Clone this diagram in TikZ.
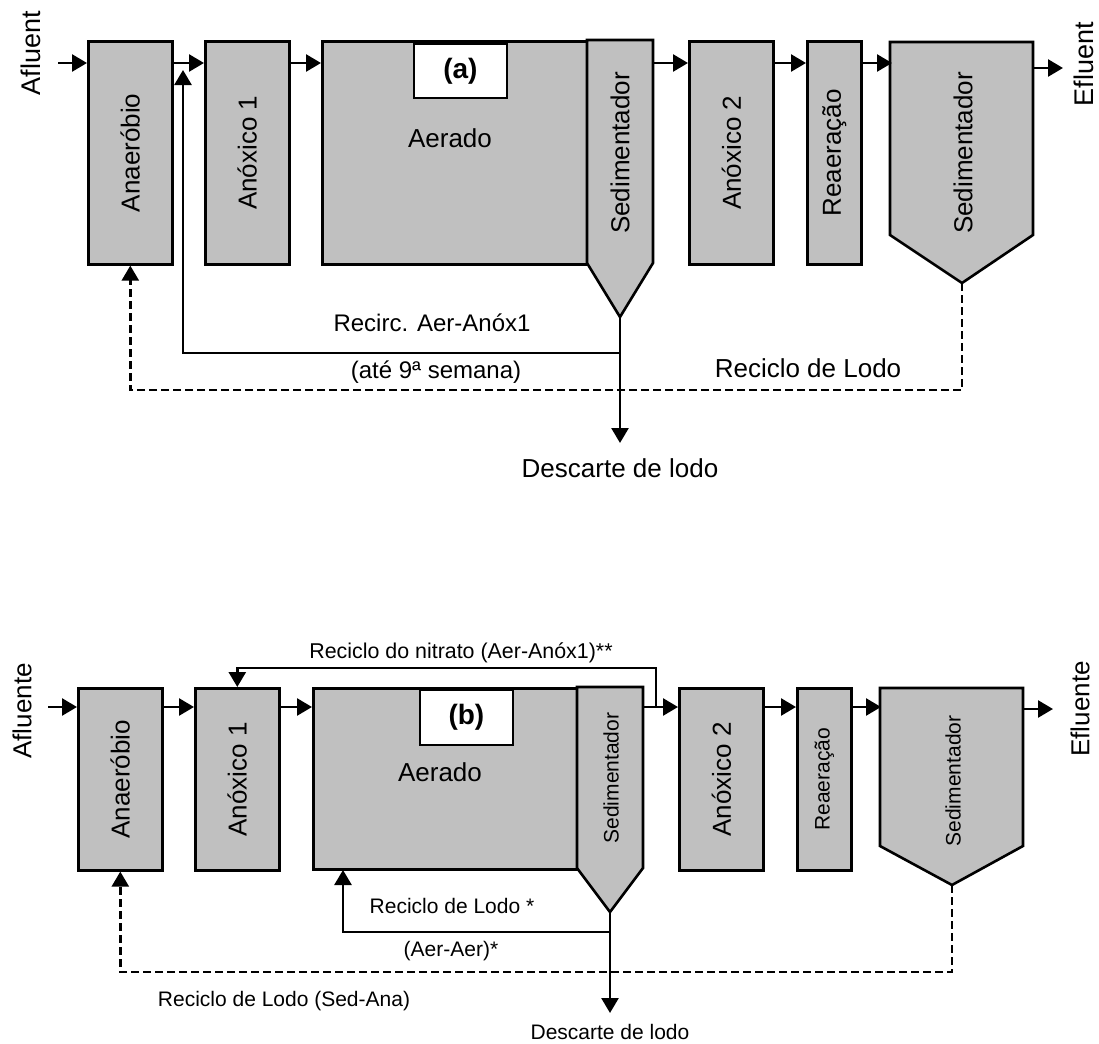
\documentclass[tikz,border=0pt]{standalone}
\usepackage{fontspec}
\setmainfont{Liberation Sans}
\usetikzlibrary{arrows.meta}
\definecolor{boxgray}{RGB}{192,192,192}
\tikzset{
  box/.style={draw, line width=1.3pt, fill=boxgray, inner sep=0pt, anchor=north west},
  sedshape/.style={draw, line width=1.3pt, fill=boxgray, line join=miter},
  tagbox/.style={draw, line width=0.9pt, fill=white, inner sep=0pt, anchor=north west},
  flow/.style={line width=1.3pt, -{Triangle[length=7.5pt,width=8.5pt]}},
  plain/.style={line width=1.3pt},
  dashflow/.style={line width=1.2pt, dash pattern=on 4pt off 2pt, -{Triangle[length=7.5pt,width=8.5pt]}},
  lbl/.style={font=\fontsize{13}{15}\selectfont, inner sep=0pt},
  vlbl/.style={lbl, rotate=90},
  slbl/.style={font=\fontsize{10.5}{12.5}\selectfont, inner sep=0pt},
  vslbl/.style={slbl, rotate=90},
  mlbl/.style={font=\fontsize{12}{14}\selectfont, inner sep=0pt},
  taglbl/.style={font=\fontsize{14}{16}\selectfont\bfseries, inner sep=0pt},
}
\begin{document}
\begin{tikzpicture}[x=0.5pt,y=-0.5pt]
\useasboundingbox (0,0) rectangle (1099,1044);

% ================= (a) =================
\node[vlbl, font=\fontsize{13.5}{15}\selectfont] (afA) at (31,53) {Afluent};
\node[vlbl, font=\fontsize{13.5}{15}\selectfont] (efA) at (1084,64) {Efluent};

\node[box, minimum width=42pt, minimum height=111.5pt] (anaA) at (87,40) {};
\node[vlbl] (anaAt) at (anaA.center) {Anaeróbio};
\node[box, minimum width=42pt, minimum height=111.5pt] (anx1A) at (204,40) {};
\node[vlbl] (anx1At) at (anx1A.center) {Anóxico 1};
\node[box, minimum width=133pt, minimum height=111.5pt] (aerA) at (321,40) {};
\node[lbl] (aerAt) at (450,138) {Aerado};
\node[tagbox, minimum width=46.5pt, minimum height=27pt] (tagA) at (413,43) {};
\node[taglbl] (tagAt) at (tagA.center) {(a)};
\draw[sedshape] (587,40) -- (653,40) -- (653,263) -- (620,317) -- (587,263) -- cycle;
\coordinate (sa1tip) at (620,317);
\node[vlbl] (sa1t) at (620,153) {Sedimentador};
\node[box, minimum width=42pt, minimum height=111.5pt] (anx2A) at (688,40) {};
\node[vlbl] (anx2At) at (anx2A.center) {Anóxico 2};
\node[box, minimum width=27pt, minimum height=111.5pt] (reaA) at (806,40) {};
\node[vlbl] (reaAt) at (reaA.center) {Reaeração};
\draw[sedshape] (890,42) -- (1033,42) -- (1033,235) -- (962,283) -- (890,235) -- cycle;
\coordinate (sa2tip) at (962,283);
\node[vlbl] (sa2t) at (963,153) {Sedimentador};

\coordinate (inA) at (58,63);
\coordinate (outA) at (1063,68);
\draw[flow] (inA) -- (anaA.west |- inA);
\draw[flow] (anaA.east |- inA) -- (anx1A.west |- inA);
\draw[flow] (anx1A.east |- inA) -- (aerA.west |- inA);
\draw[flow] (653,63) -- (anx2A.west |- inA);
\draw[flow] (anx2A.east |- inA) -- (reaA.west |- inA);
\draw[flow] (reaA.east |- inA) -- (892,63);
\draw[flow] (1033,68) -- (outA);

\coordinate (jA) at (620,353);
\coordinate (dA) at (620,443);
\coordinate (rA) at (183,70);
\draw[plain] (sa1tip) -- (jA);
\draw[flow] (jA) -- (dA);
\draw[flow] (jA) -| (rA);
\coordinate (dlA) at (962,390);
\draw[dashflow] (sa2tip) -- (dlA) -| (anaA.south);

\node[mlbl] (recA) at (432,323) {Recirc. Aer-Anóx1};
\node[mlbl] (ateA) at (436,372) {(até 9ª semana)};
\node[lbl] (rlA) at (808,368) {Reciclo de Lodo};
\node[lbl, anchor=north] (desA) at (620,458) {Descarte de lodo};

% ================= (b) =================
\node[vlbl] (afB) at (22,711) {Afluente};
\node[vlbl] (efB) at (1080,709) {Efluente};

\node[box, minimum width=42pt, minimum height=91pt] (anaB) at (77,687) {};
\node[vlbl] (anaBt) at (anaB.center) {Anaeróbio};
\node[box, minimum width=42pt, minimum height=91pt] (anx1B) at (194,687) {};
\node[vlbl] (anx1Bt) at (anx1B.center) {Anóxico 1};
\node[box, minimum width=132.5pt, minimum height=90.5pt] (aerB) at (312,687) {};
\node[lbl] (aerBt) at (440,772) {Aerado};
\node[tagbox, minimum width=46.5pt, minimum height=27.5pt] (tagB) at (419,689) {};
\node[taglbl] (tagBt) at (tagB.center) {(b)};
\draw[sedshape] (577,687) -- (643,687) -- (643,868) -- (610,912) -- (577,868) -- cycle;
\coordinate (sb1tip) at (610,912);
\node[vslbl] (sb1t) at (611,778) {Sedimentador};
\node[box, minimum width=42pt, minimum height=91pt] (anx2B) at (678,687) {};
\node[vlbl] (anx2Bt) at (anx2B.center) {Anóxico 2};
\node[box, minimum width=27pt, minimum height=91pt] (reaB) at (796,687) {};
\node[vslbl] (reaBt) at (reaB.center) {Reaeração};
\draw[sedshape] (880,688) -- (1023,688) -- (1023,846) -- (952,885) -- (880,846) -- cycle;
\coordinate (sb2tip) at (952,885);
\node[vslbl] (sb2t) at (953,781) {Sedimentador};

\coordinate (inB) at (48,707);
\coordinate (outB) at (1053,709);
\draw[flow] (inB) -- (anaB.west |- inB);
\draw[flow] (anaB.east |- inB) -- (anx1B.west |- inB);
\draw[flow] (anx1B.east |- inB) -- (aerB.west |- inB);
\draw[flow] (643,707) -- (anx2B.west |- inB);
\draw[flow] (anx2B.east |- inB) -- (reaB.west |- inB);
\draw[flow] (reaB.east |- inB) -- (881,707);
\draw[flow] (1023,709) -- (outB);

\coordinate (nB) at (656,707);
\coordinate (ntB) at (656,668);
\draw[flow] (nB) -- (ntB) -| (anx1B.north);

\coordinate (jB) at (610,932);
\coordinate (dB) at (610,1013);
\coordinate (rB) at (343,870);
\draw[plain] (sb1tip) -- (jB);
\draw[flow] (jB) -- (dB);
\draw[flow] (jB) -| (rB);
\coordinate (dlB) at (952,972);
\draw[dashflow] (sb2tip) -- (dlB) -| (anaB.south);

\node[font=\fontsize{10.7}{12.5}\selectfont, inner sep=0pt] (nitB) at (461,653) {Reciclo do nitrato (Aer-Anóx1)**};
\node[slbl] (rlB1) at (452,906) {Reciclo de Lodo *};
\node[slbl] (aaB) at (451,951) {(Aer-Aer)*};
\node[slbl] (rlB2) at (284,1001) {Reciclo de Lodo (Sed-Ana)};
\node[slbl, anchor=north] (desB) at (610,1024) {Descarte de lodo};
\end{tikzpicture}
\end{document}
